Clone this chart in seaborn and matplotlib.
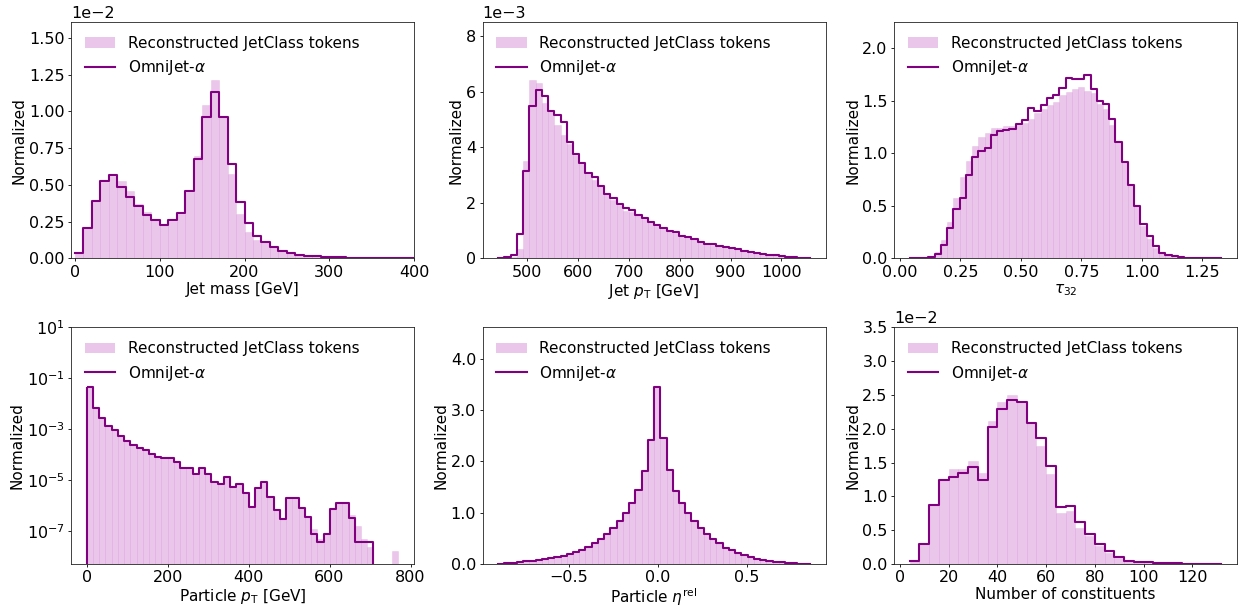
import matplotlib

matplotlib.use("Agg")
import matplotlib.pyplot as plt
import numpy as np
import pandas as pd
import seaborn as sns
from matplotlib.lines import Line2D
from matplotlib.patches import Patch
from matplotlib.ticker import FormatStrFormatter, NullLocator

# ---- binning ----
mass_edges = np.linspace(0, 400, 41)
jet_pt_edges = np.linspace(443, 1056, 51)
tau32_edges = np.linspace(0.04, 1.33, 51)
part_pt_edges = np.linspace(0, 770, 51)
eta_edges = np.linspace(-0.897, 0.856, 51)
nconst_edges = np.arange(4, 133, 4)

# ---- jet mass (x 1e-2) ----
mass_tokens = [0.045, 0.205, 0.39, 0.52, 0.56, 0.523, 0.455, 0.373, 0.318, 0.27,
               0.23, 0.257, 0.30, 0.45, 0.695, 1.04, 1.21, 0.96, 0.575, 0.30,
               0.177, 0.125, 0.11, 0.075, 0.052, 0.037, 0.026, 0.019, 0.015, 0.011,
               0.009, 0.008, 0.007, 0.006, 0.004, 0.003, 0.003, 0.002, 0.002, 0.001]
mass_omnijet = [0.036, 0.205, 0.393, 0.523, 0.568, 0.484, 0.416, 0.355, 0.295, 0.26,
                0.227, 0.261, 0.309, 0.455, 0.673, 0.959, 1.132, 0.959, 0.643, 0.386,
                0.241, 0.15, 0.114, 0.075, 0.052, 0.036, 0.025, 0.018, 0.014, 0.009,
                0.007, 0.006, 0.005, 0.004, 0.003, 0.003, 0.002, 0.002, 0.001, 0.001]

# ---- jet pT (x 1e-3) ----
jet_pt_tokens = [0.01, 0.02, 0.05, 0.33, 3.51, 6.42, 6.33, 5.58, 5.34, 4.82,
                 4.45, 4.13, 3.71, 3.41, 3.05, 2.84, 2.59, 2.33, 2.11, 1.94,
                 1.72, 1.66, 1.57, 1.43, 1.30, 1.18, 1.06, 0.98, 0.92, 0.84,
                 0.76, 0.68, 0.60, 0.54, 0.49, 0.45, 0.41, 0.37, 0.33, 0.28,
                 0.25, 0.21, 0.17, 0.14, 0.11, 0.09, 0.06, 0.04, 0.02, 0.01]
jet_pt_omnijet = [0.02, 0.04, 0.13, 0.86, 3.14, 5.49, 6.08, 5.84, 5.31, 5.17,
                  4.90, 4.20, 3.77, 3.45, 3.08, 2.92, 2.60, 2.33, 2.16, 1.95,
                  1.80, 1.74, 1.55, 1.45, 1.32, 1.20, 1.08, 0.98, 0.95, 0.82,
                  0.76, 0.68, 0.58, 0.53, 0.50, 0.45, 0.40, 0.37, 0.33, 0.28,
                  0.24, 0.20, 0.17, 0.13, 0.11, 0.09, 0.06, 0.04, 0.02, 0.01]

# ---- tau32 ----
tau32_tokens = [0.001, 0.002, 0.006, 0.02, 0.06, 0.175, 0.35, 0.57, 0.77, 0.93,
                1.07, 1.15, 1.19, 1.24, 1.24, 1.26, 1.26, 1.27, 1.29, 1.33,
                1.38, 1.42, 1.46, 1.49, 1.55, 1.58, 1.61, 1.63, 1.59, 1.57,
                1.47, 1.42, 1.27, 1.11, 0.92, 0.71, 0.50, 0.31, 0.18, 0.10,
                0.05, 0.03, 0.018, 0.011, 0.008, 0.006, 0.004, 0.003, 0.002, 0.001]
tau32_omnijet = [0.001, 0.002, 0.005, 0.016, 0.045, 0.13, 0.29, 0.47, 0.57, 0.79,
                 0.96, 1.02, 1.05, 1.17, 1.21, 1.22, 1.23, 1.28, 1.32, 1.43,
                 1.40, 1.46, 1.53, 1.55, 1.62, 1.72, 1.71, 1.71, 1.74, 1.61,
                 1.50, 1.47, 1.33, 1.11, 0.92, 0.70, 0.50, 0.33, 0.21, 0.12,
                 0.054, 0.032, 0.019, 0.01, 0.006, 0.005, 0.004, 0.003, 0.002, 0.001]

# ---- particle pT (log scale) ----
part_pt_tokens = [5.2e-2, 7.2e-3, 2.9e-3, 1.4e-3, 9.5e-4, 5.7e-4, 3.6e-4, 2.5e-4, 1.9e-4, 1.5e-4,
                  1.1e-4, 8.5e-5, 7.2e-5, 7.2e-5, 5.1e-5, 3.0e-5, 3.0e-5, 1.8e-5, 3.0e-5, 1.8e-5,
                  8.3e-6, 6.8e-6, 1.3e-5, 5.4e-6, 7.2e-6, 3.4e-6, 9.0e-7, 5.0e-6, 8.3e-6, 2.3e-6,
                  6.5e-7, 3.0e-7, 2.0e-6, 2.0e-6, 7.9e-7, 3.5e-7, 1.2e-7, 5.0e-8, 7.9e-8, 7.1e-7,
                  1.3e-6, 1.3e-6, 4.5e-7, 1.6e-7, 5.0e-8, 2.3e-8, 0.0, 0.0, 0.0, 1.7e-8]
part_pt_omnijet = [4.7e-2, 6.9e-3, 2.8e-3, 1.4e-3, 9.3e-4, 5.6e-4, 3.6e-4, 2.5e-4, 1.9e-4, 1.5e-4,
                   1.1e-4, 8.5e-5, 7.2e-5, 7.2e-5, 5.1e-5, 3.0e-5, 3.0e-5, 1.8e-5, 3.0e-5, 1.8e-5,
                   8.3e-6, 6.8e-6, 1.3e-5, 5.4e-6, 7.2e-6, 3.2e-6, 8.7e-7, 5.0e-6, 8.3e-6, 2.1e-6,
                   6.5e-7, 3.0e-7, 2.0e-6, 2.0e-6, 7.9e-7, 3.5e-7, 7.9e-8, 3.9e-8, 7.9e-8, 7.1e-7,
                   1.3e-6, 1.3e-6, 3.3e-7, 3.9e-8, 3.9e-8, 3.9e-8, 0.0, 0.0, 0.0, 0.0]

# ---- particle eta_rel ----
eta_tokens = [0.005, 0.01, 0.02, 0.035, 0.05, 0.065, 0.08, 0.095, 0.115, 0.135,
              0.16, 0.19, 0.23, 0.27, 0.34, 0.41, 0.48, 0.58, 0.71, 0.83,
              0.99, 1.19, 1.45, 1.81, 2.42, 3.45, 2.45, 1.83, 1.43, 1.19,
              0.99, 0.83, 0.70, 0.59, 0.48, 0.40, 0.32, 0.27, 0.22, 0.17,
              0.13, 0.10, 0.08, 0.06, 0.045, 0.03, 0.02, 0.012, 0.007, 0.003]
eta_omnijet = [0.005, 0.01, 0.02, 0.035, 0.05, 0.065, 0.08, 0.095, 0.115, 0.135,
               0.16, 0.19, 0.23, 0.27, 0.34, 0.41, 0.48, 0.58, 0.71, 0.83,
               0.99, 1.19, 1.45, 1.81, 2.42, 3.45, 2.45, 1.83, 1.43, 1.19,
               0.99, 0.83, 0.70, 0.59, 0.48, 0.40, 0.32, 0.27, 0.22, 0.17,
               0.13, 0.10, 0.08, 0.06, 0.045, 0.03, 0.02, 0.012, 0.007, 0.003]

# ---- number of constituents (x 1e-2) ----
nconst_tokens = [0.04, 0.30, 0.88, 1.25, 1.40, 1.40, 1.53, 1.35, 2.12, 2.40,
                 2.50, 2.40, 2.10, 1.74, 1.33, 0.76, 0.79, 0.54, 0.41, 0.26,
                 0.16, 0.09, 0.05, 0.035, 0.025, 0.015, 0.01, 0.008, 0.005, 0.004,
                 0.003, 0.002]
nconst_omnijet = [0.04, 0.30, 0.88, 1.25, 1.28, 1.34, 1.44, 1.25, 2.03, 2.30,
                  2.43, 2.40, 2.08, 1.87, 1.45, 0.84, 0.86, 0.62, 0.45, 0.30,
                  0.19, 0.10, 0.05, 0.035, 0.025, 0.015, 0.01, 0.008, 0.005, 0.004,
                  0.003, 0.002]
nconst_ticks = [0, 20, 40, 60, 80, 100, 120]

FILL = "plum"
FILL_ALPHA = 0.6
LINE = "purple"
LW = 1.5

plt.rcParams.update({
    "font.family": ["DejaVu Sans"],
    "font.size": 11,
    "axes.labelsize": 11,
    "xtick.labelsize": 11.5,
    "ytick.labelsize": 11.5,
    "legend.fontsize": 11,
    "axes.linewidth": 0.6,
    "axes.edgecolor": "#222222",
    "axes.labelpad": 1.5,
    "xtick.major.size": 2.4,
    "ytick.major.size": 2.4,
    "xtick.major.width": 0.6,
    "ytick.major.width": 0.6,
    "xtick.major.pad": 2.2,
    "ytick.major.pad": 2.2,
})


def draw_panel(ax, edges, tokens, omnijet, scale=1.0, log=False):
    df = pd.DataFrame({
        "center": 0.5 * (edges[:-1] + edges[1:]),
        "tokens": np.asarray(tokens, dtype=float) * scale,
        "omnijet": np.asarray(omnijet, dtype=float) * scale,
    })
    bins = list(edges)
    if log:
        ax.set_yscale("log")
    sns.histplot(data=df, x="center", weights="tokens", bins=bins, element="bars",
                 fill=True, color=FILL, alpha=FILL_ALPHA,
                 edgecolor=(0.85, 0.55, 0.85, 0.3), linewidth=0.5, ax=ax)
    if log:
        # filled-step outline so the left edge rises from the (clipped) baseline
        sns.histplot(data=df, x="center", weights="omnijet", bins=bins, element="step",
                     fill=True, color=LINE, facecolor="none", linewidth=LW, ax=ax)
    else:
        sns.histplot(data=df, x="center", weights="omnijet", bins=bins, element="step",
                     fill=False, color=LINE, linewidth=LW, ax=ax)
    handles = [Patch(facecolor=FILL, alpha=FILL_ALPHA, edgecolor="none"),
               Line2D([], [], color=LINE, linewidth=LW)]
    ax.legend(handles, ["Reconstructed JetClass tokens", "OmniJet-$\\alpha$"],
              loc="upper left", frameon=False)
    ax.set_ylabel("Normalized")


fig, axes = plt.subplots(2, 3, figsize=(12.42, 6.06), dpi=100)
fig.subplots_adjust(left=0.0572, right=0.996, top=0.964, bottom=0.0693,
                    wspace=0.2, hspace=0.292)

ax = axes[0, 0]
draw_panel(ax, mass_edges, mass_tokens, mass_omnijet, scale=1e-2)
ax.set_xlim(-4.7, 400)
ax.set_ylim(0, 1.609e-2)
ax.ticklabel_format(axis="y", style="sci", scilimits=(0, 0))
ax.set_xlabel("Jet mass [GeV]")

ax = axes[0, 1]
draw_panel(ax, jet_pt_edges, jet_pt_tokens, jet_pt_omnijet, scale=1e-3)
ax.set_ylim(0, 8.52e-3)
ax.ticklabel_format(axis="y", style="sci", scilimits=(0, 0))
ax.set_xlabel("Jet $p_\\mathrm{T}$ [GeV]")

ax = axes[0, 2]
draw_panel(ax, tau32_edges, tau32_tokens, tau32_omnijet)
ax.set_ylim(0, 2.25)
ax.set_xlabel("$\\tau_{32}$")

ax = axes[1, 0]
draw_panel(ax, part_pt_edges, part_pt_tokens, part_pt_omnijet, log=True)
ax.set_xlim(-38.5, 808.5)
ax.set_ylim(10 ** -8.29, 10)
ax.set_yticks([1e1, 1e-1, 1e-3, 1e-5, 1e-7])
ax.yaxis.set_minor_locator(NullLocator())
ax.set_xlabel("Particle $p_\\mathrm{T}$ [GeV]")

ax = axes[1, 1]
draw_panel(ax, eta_edges, eta_tokens, eta_omnijet)
ax.set_ylim(0, 4.61)
ax.yaxis.set_major_formatter(FormatStrFormatter("%.1f"))
ax.set_xlabel("Particle $\\eta^\\mathrm{rel}$", labelpad=0.3)

ax = axes[1, 2]
draw_panel(ax, nconst_edges, nconst_tokens, nconst_omnijet, scale=1e-2)
ax.set_xticks(nconst_ticks)
ax.set_ylim(0, 3.5e-2)
ax.ticklabel_format(axis="y", style="sci", scilimits=(0, 0))
ax.set_xlabel("Number of constituents")

fig.savefig("out.png", dpi=100)
